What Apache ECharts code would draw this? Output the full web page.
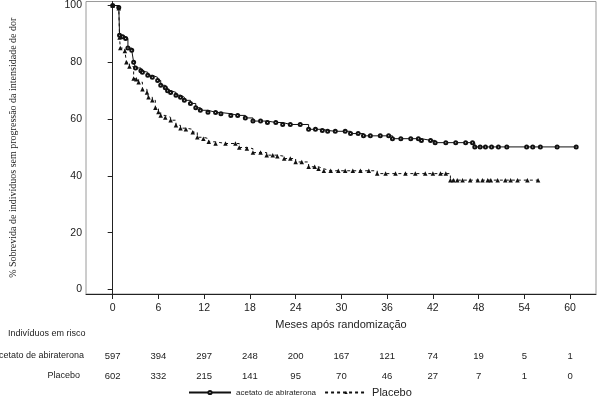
<!DOCTYPE html>
<html>
<head>
<meta charset="utf-8">
<script src="https://cdn.jsdelivr.net/npm/echarts@6/dist/echarts.min.js"></script>
<style>
  html, body { margin: 0; padding: 0; background: #fff; }
  #chart { width: 598px; height: 398px; }
</style>
</head>
<body>
<div id="chart"></div>
<script>
// curvas de Kaplan-Meier: [mês, % sem progressão]
var abiraterona = [
  [0, 100], [0.8, 99.3], [0.9, 89.5], [1.3, 89], [1.7, 88.4], [2.0, 85], [2.5, 84.2],
  [2.75, 80], [3.0, 78], [3.7, 77], [3.9, 76.5], [4.6, 75.4], [5.2, 74.7], [5.9, 73.6],
  [6.3, 71.9], [6.9, 71], [7.2, 70], [7.6, 69.4], [8.3, 68.4], [8.9, 67.7], [9.4, 66.6],
  [10.2, 65.5], [10.9, 64], [11.5, 63.1], [12.5, 62.4], [13.5, 62.3], [14.2, 61.9],
  [15.5, 61.3], [16.4, 61.3], [17.4, 60.4], [18.4, 59.3], [19.4, 59.3], [20.3, 58.8],
  [21.4, 58.8], [22.3, 58.1], [23.3, 58.1], [24.6, 58.1], [25.7, 56.4], [26.6, 56.4],
  [27.5, 56], [28.2, 55.7], [29.2, 55.7], [30.5, 55.7], [31.2, 54.9], [32.2, 54.9],
  [32.9, 54.1], [33.8, 54.1], [35.1, 54.1], [36.2, 54.1], [36.7, 53.1], [37.8, 53.1],
  [39.1, 53.1], [40.1, 53.1], [40.5, 52.5], [41.7, 52.5], [42.3, 51.7], [43.7, 51.7],
  [45.0, 51.7], [46.3, 51.7], [47.2, 51.7], [47.5, 50.2], [48.2, 50.2], [48.9, 50.2],
  [49.7, 50.2], [50.6, 50.2], [51.7, 50.2], [54.3, 50.2], [55.1, 50.2], [56.1, 50.2],
  [58.3, 50.2], [60.8, 50.2]
];
var placebo = [
  [0, 100], [0.8, 99], [0.9, 88.7], [1.0, 85], [1.6, 84], [1.8, 80], [2.2, 78.5],
  [2.75, 74.3], [3.1, 74], [3.4, 73], [3.9, 70.5], [4.5, 69.4], [4.7, 67.7], [5.2, 66.6],
  [5.6, 64], [6.0, 62.5], [6.3, 61.3], [6.9, 60.6], [7.6, 59.6], [8.3, 57.8], [8.9, 56.8],
  [9.6, 56.4], [10.5, 55.4], [11.1, 53.6], [11.9, 53.1], [12.6, 52], [13.5, 51.4],
  [14.8, 51.4], [16.1, 51.4], [16.6, 50], [17.6, 49.6], [18.4, 48.2], [19.4, 48.2],
  [20.2, 47.3], [21.0, 47.3], [21.6, 46.9], [22.5, 46.1], [23.3, 46.1], [24.0, 44.9],
  [24.8, 44.9], [25.7, 43.2], [26.5, 43.2], [27.0, 42.5], [27.7, 41.8], [28.6, 41.8],
  [29.6, 41.8], [30.5, 41.8], [31.5, 41.8], [32.5, 41.8], [33.6, 41.8], [34.7, 40.8],
  [35.8, 40.8], [37.1, 40.8], [38.4, 40.8], [39.7, 40.8], [41.0, 40.8], [42.0, 40.8],
  [43.0, 40.8], [43.7, 40.8], [44.3, 38.5], [44.7, 38.5], [45.2, 38.5], [45.9, 38.5],
  [46.9, 38.5], [47.9, 38.5], [48.5, 38.5], [49.2, 38.5], [49.6, 38.5], [50.5, 38.5],
  [51.5, 38.5], [52.2, 38.5], [53.1, 38.5], [54.4, 38.5], [55.8, 38.5]
];

var xTicks = [0, 6, 12, 18, 24, 30, 36, 42, 48, 54, 60];
var yTicks = [0, 20, 40, 60, 80, 100];
var riscoAbiraterona = [597, 394, 297, 248, 200, 167, 121, 74, 19, 5, 1];
var riscoPlacebo = [602, 332, 215, 141, 95, 70, 46, 27, 7, 1, 0];

var chart = echarts.init(document.getElementById('chart'));
var sans = 'Liberation Sans, Arial, sans-serif';

chart.setOption({
  animation: false,
  grid: { left: 85, right: 2, top: 1, bottom: 104, show: true, borderColor: '#9a9a9a', borderWidth: 1 },
  xAxis: {
    type: 'value', min: -3.5, max: 63.4,
    name: 'Meses após randomização', nameLocation: 'middle', nameGap: 25,
    nameTextStyle: { fontFamily: sans, fontSize: 11, color: '#222' },
    axisLine: { onZero: false, lineStyle: { color: '#222' } },
    axisTick: { customValues: xTicks, length: 5, lineStyle: { color: '#222' } },
    axisLabel: { customValues: xTicks, fontFamily: sans, fontSize: 10.5, color: '#222', margin: 9 },
    splitLine: { show: false }
  },
  yAxis: {
    type: 'value', min: -1.6, max: 101.4,
    name: '% Sobrevida de indivíduos sem progressão da intensidade de dor',
    nameLocation: 'middle', nameGap: 68,
    nameTextStyle: { fontFamily: 'Liberation Serif, Times New Roman, serif', fontSize: 10, color: '#222' },
    axisLine: { show: true, lineStyle: { color: '#222' } },
    axisTick: { show: true, customValues: yTicks, length: 5, lineStyle: { color: '#222' } },
    axisLabel: { customValues: yTicks, fontFamily: sans, fontSize: 10.5, color: '#222', margin: 4 },
    splitLine: { show: false }
  },
  legend: {
    left: 188, top: 387, padding: 0, itemWidth: 42, itemHeight: 4, itemGap: 8,
    data: [
      { name: 'acetato de abiraterona', textStyle: { fontSize: 8, fontFamily: sans, color: '#222' } },
      { name: 'Placebo', textStyle: { fontSize: 11, fontFamily: sans, color: '#222' } }
    ]
  },
  series: [
    {
      name: 'acetato de abiraterona', type: 'line', step: 'end', data: abiraterona,
      symbol: 'emptyCircle', symbolSize: 3, showAllSymbol: true,
      lineStyle: { color: '#111', width: 1 },
      itemStyle: { color: '#111', borderWidth: 0.8 }
    },
    {
      name: 'Placebo', type: 'line', step: 'end', data: placebo,
      symbol: 'triangle', symbolSize: 4.5, showAllSymbol: true,
      lineStyle: { color: '#111', width: 1, type: [3, 3] },
      itemStyle: { color: '#111' }
    }
  ]
});

// tabela de indivíduos em risco, alinhada aos meses do eixo x
var graphics = [
  { type: 'text', left: 8, top: 329, style: { text: 'Indivíduos em risco', font: '9px ' + sans, fill: '#222' } },
  { type: 'text', x: 84, y: 356, style: { text: 'acetato de abiraterona', font: '9px ' + sans, fill: '#222', align: 'right', verticalAlign: 'middle' } },
  { type: 'text', x: 80, y: 376, style: { text: 'Placebo', font: '9px ' + sans, fill: '#222', align: 'right', verticalAlign: 'middle' } }
];
xTicks.forEach(function (m, i) {
  var px = chart.convertToPixel({ xAxisIndex: 0 }, m);
  graphics.push({ type: 'text', x: px, y: 356, style: { text: String(riscoAbiraterona[i]), font: '9.5px ' + sans, fill: '#222', align: 'center', verticalAlign: 'middle' } });
  graphics.push({ type: 'text', x: px, y: 376, style: { text: String(riscoPlacebo[i]), font: '9.5px ' + sans, fill: '#222', align: 'center', verticalAlign: 'middle' } });
});
chart.setOption({ graphic: graphics });
</script>
</body>
</html>
